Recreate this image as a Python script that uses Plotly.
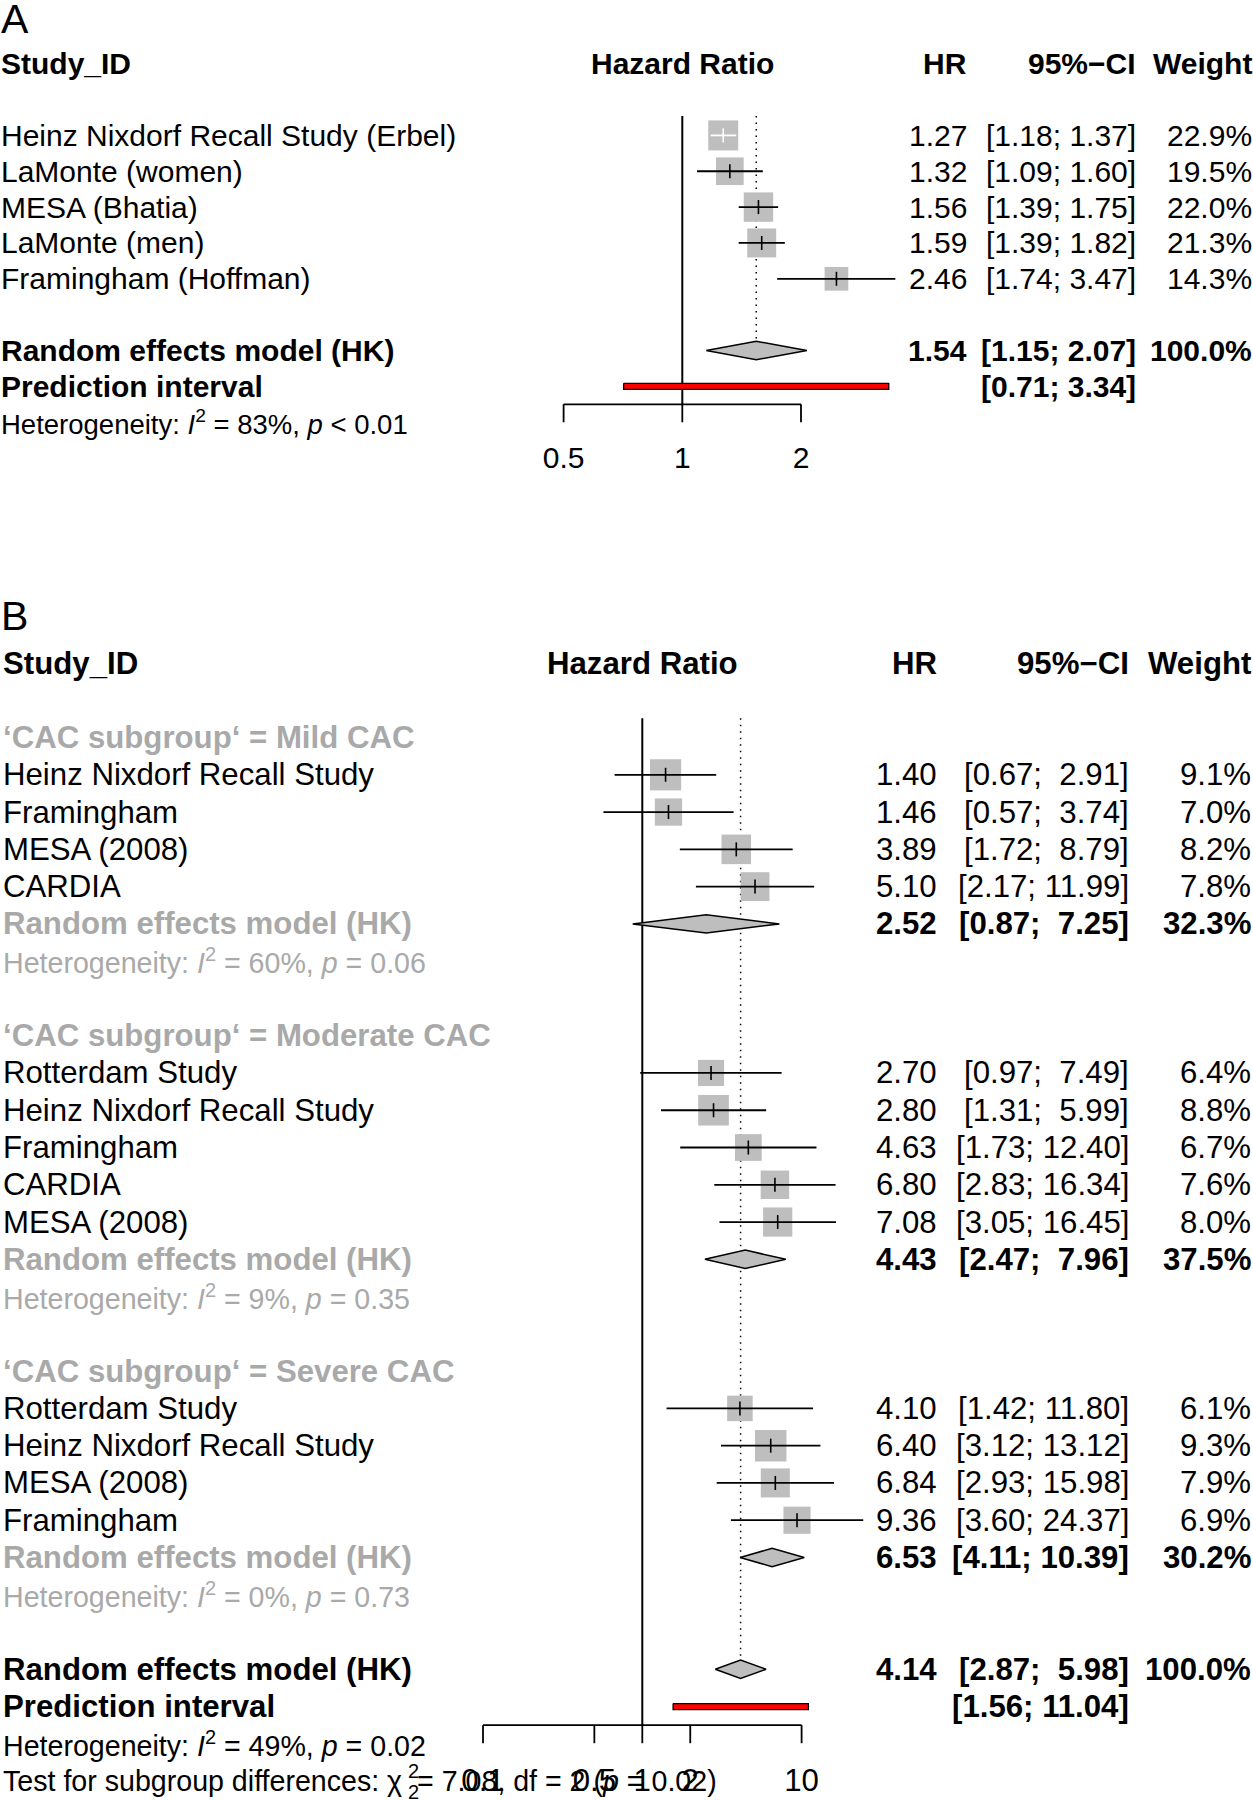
import math
import plotly.graph_objects as go

# ---------------- Panel A data ----------------
studies_A = ["Heinz Nixdorf Recall Study (Erbel)", "LaMonte (women)", "MESA (Bhatia)",
             "LaMonte (men)", "Framingham (Hoffman)"]
hr_A = [1.27, 1.32, 1.56, 1.59, 2.46]
lo_A = [1.18, 1.09, 1.39, 1.39, 1.74]
hi_A = [1.37, 1.60, 1.75, 1.82, 3.47]
w_A = [22.9, 19.5, 22.0, 21.3, 14.3]
re_A = [1.54, 1.15, 2.07, 100.0]          # est, lower, upper, weight
pi_A = [0.71, 3.34]
het_A = [83, "<", "0.01"]                  # I2, operator, p
ticks_A = [0.5, 1, 2]

# ---------------- Panel B data ----------------
sub_names = ["Mild CAC", "Moderate CAC", "Severe CAC"]
sub_studies = [
    ["Heinz Nixdorf Recall Study", "Framingham", "MESA (2008)", "CARDIA"],
    ["Rotterdam Study", "Heinz Nixdorf Recall Study", "Framingham", "CARDIA", "MESA (2008)"],
    ["Rotterdam Study", "Heinz Nixdorf Recall Study", "MESA (2008)", "Framingham"],
]
sub_hr = [[1.40, 1.46, 3.89, 5.10], [2.70, 2.80, 4.63, 6.80, 7.08], [4.10, 6.40, 6.84, 9.36]]
sub_lo = [[0.67, 0.57, 1.72, 2.17], [0.97, 1.31, 1.73, 2.83, 3.05], [1.42, 3.12, 2.93, 3.60]]
sub_hi = [[2.91, 3.74, 8.79, 11.99], [7.49, 5.99, 12.40, 16.34, 16.45], [11.80, 13.12, 15.98, 24.37]]
sub_w = [[9.1, 7.0, 8.2, 7.8], [6.4, 8.8, 6.7, 7.6, 8.0], [6.1, 9.3, 7.9, 6.9]]
sub_re = [[2.52, 0.87, 7.25, 32.3], [4.43, 2.47, 7.96, 37.5], [6.53, 4.11, 10.39, 30.2]]
sub_het = [[60, "=", "0.06"], [9, "=", "0.35"], [0, "=", "0.73"]]
overall_B = [4.14, 2.87, 5.98, 100.0]
pi_B = [1.56, 11.04]
het_B = [49, "=", "0.02"]
test_B = [7.08, 2, "0.02"]                 # chi2, df, p
ticks_B = [0.1, 0.5, 1, 2, 10]

# ---------------- layout constants ----------------
W, H = 1253, 1800
FONT = "Liberation Sans, Arial, Helvetica, sans-serif"
SQ = "#BEBEBE"
DG = "#A9A9A9"
NB = "\u00a0"

cfgA = dict(xa="x", ya="y", x1=682.3, ppd=394.3, row0=63.7, rowh=35.85, fs=30, fss=27.5,
            lab=0, hr=968, ci=1137, w=1253, sq=30.0, top=0, bot=520)
cfgB = dict(xa="x2", ya="y2", x1=642.3, ppd=159.3, row0=663.0, rowh=37.27, fs=31.2, fss=28.6,
            lab=2, hr=938, ci=1129.5, w=1252, sq=31.5, top=540, bot=1800)

fig = go.Figure()
anns = []


def text(cfg, xpx, row, s, anchor, size, color="black"):
    anns.append(dict(x=xpx / W, xref="paper", y=row, yref=cfg["ya"], text=s,
                     xanchor=anchor, yanchor="middle", showarrow=False, borderpad=0,
                     font=dict(family=FONT, size=size, color=color)))


def line(cfg, xs, ys, color="black", width=1.8, dash=None):
    fig.add_trace(go.Scatter(x=xs, y=ys, mode="lines", xaxis=cfg["xa"], yaxis=cfg["ya"],
                             line=dict(color=color, width=width, dash=dash),
                             hoverinfo="skip", cliponaxis=False))


def fmt_ci(lo, hi, wl, wh):
    a = f"{lo:.2f}"
    b = f"{hi:.2f}"
    return "[" + NB * (wl - len(a)) + a + "; " + NB * (wh - len(b)) + b + "]"


def het_text(h):
    op = "&lt;" if h[1] == "<" else h[1]
    return f"Heterogeneity: <i>I</i><sup>2</sup> = {h[0]}%, <i>p</i> {op} {h[2]}"


def header(cfg, xmid):
    r = 0
    text(cfg, cfg["lab"], r, "<b>Study_ID</b>", "left", cfg["fs"])
    text(cfg, xmid, r, "<b>Hazard Ratio</b>", "center", cfg["fs"])
    text(cfg, cfg["hr"], r, "<b>HR</b>", "right", cfg["fs"])
    text(cfg, cfg["ci"], r, "<b>95%\u2212CI</b>", "right", cfg["fs"])
    text(cfg, cfg["w"], r, "<b>Weight</b>", "right", cfg["fs"])


def studies(cfg, rows, names, hr, lo, hi, w, wmax, wl, wh):
    sizes = [cfg["sq"] * math.sqrt(wi / wmax) for wi in w]
    fig.add_trace(go.Scatter(x=hr, y=rows, mode="markers", xaxis=cfg["xa"], yaxis=cfg["ya"],
                             marker=dict(symbol="square", size=sizes, color=SQ, opacity=1,
                                         line=dict(width=0)),
                             hoverinfo="skip", cliponaxis=False))
    for r, h, l, u, s in zip(rows, hr, lo, hi, sizes):
        half = s / 2 / cfg["ppd"]
        inside = math.log10(l) >= math.log10(h) - half and math.log10(u) <= math.log10(h) + half
        col = "white" if inside else "black"
        line(cfg, [l, u], [r, r], color=col, width=1.8)
        fig.add_trace(go.Scatter(x=[h], y=[r], mode="markers", xaxis=cfg["xa"], yaxis=cfg["ya"],
                                 marker=dict(symbol="line-ns", size=10, line=dict(width=1.6, color=col)),
                                 hoverinfo="skip", cliponaxis=False))
    for r, n, h, l, u, wi in zip(rows, names, hr, lo, hi, w):
        text(cfg, cfg["lab"], r, n, "left", cfg["fs"])
        text(cfg, cfg["hr"], r, f"{h:.2f}", "right", cfg["fs"])
        text(cfg, cfg["ci"], r, fmt_ci(l, u, wl, wh), "right", cfg["fs"])
        text(cfg, cfg["w"], r, f"{wi:.1f}%", "right", cfg["fs"])


def diamond(cfg, row, est, lo, hi):
    dh = 9.2 / cfg["rowh"]
    fig.add_trace(go.Scatter(x=[lo, est, hi, est, lo], y=[row, row - dh, row, row + dh, row],
                             mode="lines", fill="toself", fillcolor=SQ, xaxis=cfg["xa"], yaxis=cfg["ya"],
                             line=dict(color="black", width=1.5), hoverinfo="skip", cliponaxis=False))


def summary_text(cfg, row, label, vals, wl, wh, label_color="black"):
    text(cfg, cfg["lab"], row, f"<b>{label}</b>", "left", cfg["fs"], label_color)
    text(cfg, cfg["hr"], row, f"<b>{vals[0]:.2f}</b>", "right", cfg["fs"])
    text(cfg, cfg["ci"], row, "<b>" + fmt_ci(vals[1], vals[2], wl, wh) + "</b>", "right", cfg["fs"])
    text(cfg, cfg["w"], row, f"<b>{vals[3]:.1f}%</b>", "right", cfg["fs"])


def pred(cfg, row, lo, hi, wl, wh):
    ph = 3.0 / cfg["rowh"]
    fig.add_trace(go.Scatter(x=[lo, hi, hi, lo, lo], y=[row - ph, row - ph, row + ph, row + ph, row - ph],
                             mode="lines", fill="toself", fillcolor="red", xaxis=cfg["xa"], yaxis=cfg["ya"],
                             line=dict(color="black", width=1.2), hoverinfo="skip", cliponaxis=False))
    text(cfg, cfg["lab"], row, "<b>Prediction interval</b>", "left", cfg["fs"])
    text(cfg, cfg["ci"], row, "<b>" + fmt_ci(lo, hi, wl, wh) + "</b>", "right", cfg["fs"])


def axis(cfg, axis_row, ticks, label_row):
    tl = 18.0 / cfg["rowh"]
    line(cfg, [ticks[0], ticks[-1]], [axis_row, axis_row], width=1.8)
    for t in ticks:
        line(cfg, [t, t], [axis_row, axis_row + tl], width=1.8)
    fig.add_trace(go.Scatter(x=ticks, y=[label_row] * len(ticks), mode="text", xaxis=cfg["xa"], yaxis=cfg["ya"],
                             text=[f"{t:g}" for t in ticks], textposition="middle center",
                             textfont=dict(family=FONT, size=cfg["fs"], color="black"),
                             hoverinfo="skip", cliponaxis=False))


def panel_letter(cfg, letter):
    text(cfg, 0, -1.25, letter, "left", 41)


# ================= Panel A =================
cA = cfgA
panel_letter(cA, "A")
header(cA, cA["x1"])
rows_A = [2 + i for i in range(len(studies_A))]
re_row_A = rows_A[-1] + 2
pi_row_A = re_row_A + 1
het_row_A = pi_row_A + 1
axis_row_A = pi_row_A + 0.5
top_A = rows_A[0] - 0.54
line(cA, [1, 1], [top_A, axis_row_A], width=2)
line(cA, [re_A[0], re_A[0]], [top_A, re_row_A - 9.2 / cA["rowh"]], width=1.5, dash="1.5px,5px")
wlA = max(len(f"{v:.2f}") for v in lo_A + [re_A[1], pi_A[0]])
whA = max(len(f"{v:.2f}") for v in hi_A + [re_A[2], pi_A[1]])
studies(cA, rows_A, studies_A, hr_A, lo_A, hi_A, w_A, max(w_A), wlA, whA)
diamond(cA, re_row_A, re_A[0], re_A[1], re_A[2])
summary_text(cA, re_row_A, "Random effects model (HK)", re_A, wlA, whA)
pred(cA, pi_row_A, pi_A[0], pi_A[1], wlA, whA)
text(cA, 0, het_row_A, het_text(het_A), "left", cA["fss"])
axis(cA, axis_row_A, ticks_A, pi_row_A + 2.08)

# ================= Panel B =================
cB = cfgB
panel_letter(cB, "B")
header(cB, cB["x1"])
all_lo = [v for g in sub_lo for v in g] + [s[1] for s in sub_re] + [overall_B[1], pi_B[0]]
all_hi = [v for g in sub_hi for v in g] + [s[2] for s in sub_re] + [overall_B[2], pi_B[1]]
wlB = max(len(f"{v:.2f}") for v in all_lo)
whB = max(len(f"{v:.2f}") for v in all_hi)
wmaxB = max(v for g in sub_w for v in g)

r = 2
layout_rows = []
for gi in range(len(sub_names)):
    n = len(sub_studies[gi])
    layout_rows.append((r, [r + 1 + k for k in range(n)], r + n + 1, r + n + 2))
    r += n + 4
ov_row = r
pi_row_B = ov_row + 1
het_row_B = pi_row_B + 1
test_row_B = het_row_B + 1
axis_row_B = pi_row_B + 0.5
top_B = 2 - 0.52

line(cB, [1, 1], [top_B, axis_row_B], width=2)
line(cB, [overall_B[0], overall_B[0]], [top_B, ov_row - 9.2 / cB["rowh"]], width=1.5, dash="1.5px,5px")

for gi, (hrow, srows, rerow, hetrow) in enumerate(layout_rows):
    text(cB, cB["lab"], hrow, f"<b>\u2018CAC subgroup\u2018 = {sub_names[gi]}</b>", "left", cB["fs"], DG)
    studies(cB, srows, sub_studies[gi], sub_hr[gi], sub_lo[gi], sub_hi[gi], sub_w[gi], wmaxB, wlB, whB)
    diamond(cB, rerow, sub_re[gi][0], sub_re[gi][1], sub_re[gi][2])
    summary_text(cB, rerow, "Random effects model (HK)", sub_re[gi], wlB, whB, label_color=DG)
    text(cB, cB["lab"], hetrow, het_text(sub_het[gi]), "left", cB["fss"], DG)

diamond(cB, ov_row, overall_B[0], overall_B[1], overall_B[2])
summary_text(cB, ov_row, "Random effects model (HK)", overall_B, wlB, whB)
pred(cB, pi_row_B, pi_B[0], pi_B[1], wlB, whB)
text(cB, cB["lab"], het_row_B, het_text(het_B), "left", cB["fss"])
# test for subgroup differences (chi-square with stacked sub/superscript)
text(cB, cB["lab"], test_row_B, "Test for subgroup differences: \u03c7", "left", cB["fss"])
text(cB, 407, test_row_B - 0.28, "2", "left", 20)
text(cB, 407, test_row_B + 0.28, "2", "left", 20)
text(cB, 718, test_row_B, f"= {test_B[0]:.2f}, df = {test_B[1]} (<i>p</i> = {test_B[2]})", "right", cB["fss"])
axis(cB, axis_row_B, ticks_B, pi_row_B + 2.05)


# ---------------- axes ----------------
def xrange(cfg):
    return [(0 - cfg["x1"]) / cfg["ppd"], (W - cfg["x1"]) / cfg["ppd"]]


def yrange(cfg):
    return [(cfg["bot"] - cfg["row0"]) / cfg["rowh"], (cfg["top"] - cfg["row0"]) / cfg["rowh"]]


def ydomain(cfg):
    return [1 - cfg["bot"] / H, 1 - cfg["top"] / H]


hidden = dict(visible=False, showgrid=False, zeroline=False, fixedrange=True)
fig.update_layout(
    width=W, height=H, margin=dict(l=0, r=0, t=0, b=0),
    paper_bgcolor="white", plot_bgcolor="white", showlegend=False,
    xaxis=dict(type="log", domain=[0, 1], range=xrange(cfgA), anchor="y", **hidden),
    yaxis=dict(domain=ydomain(cfgA), range=yrange(cfgA), anchor="x", **hidden),
    xaxis2=dict(type="log", domain=[0, 1], range=xrange(cfgB), anchor="y2", **hidden),
    yaxis2=dict(domain=ydomain(cfgB), range=yrange(cfgB), anchor="x2", **hidden),
    annotations=anns,
)

fig.write_html("out.html", config={"displayModeBar": False},
               post_script="document.body.style.margin='0';document.body.style.overflow='hidden';")
